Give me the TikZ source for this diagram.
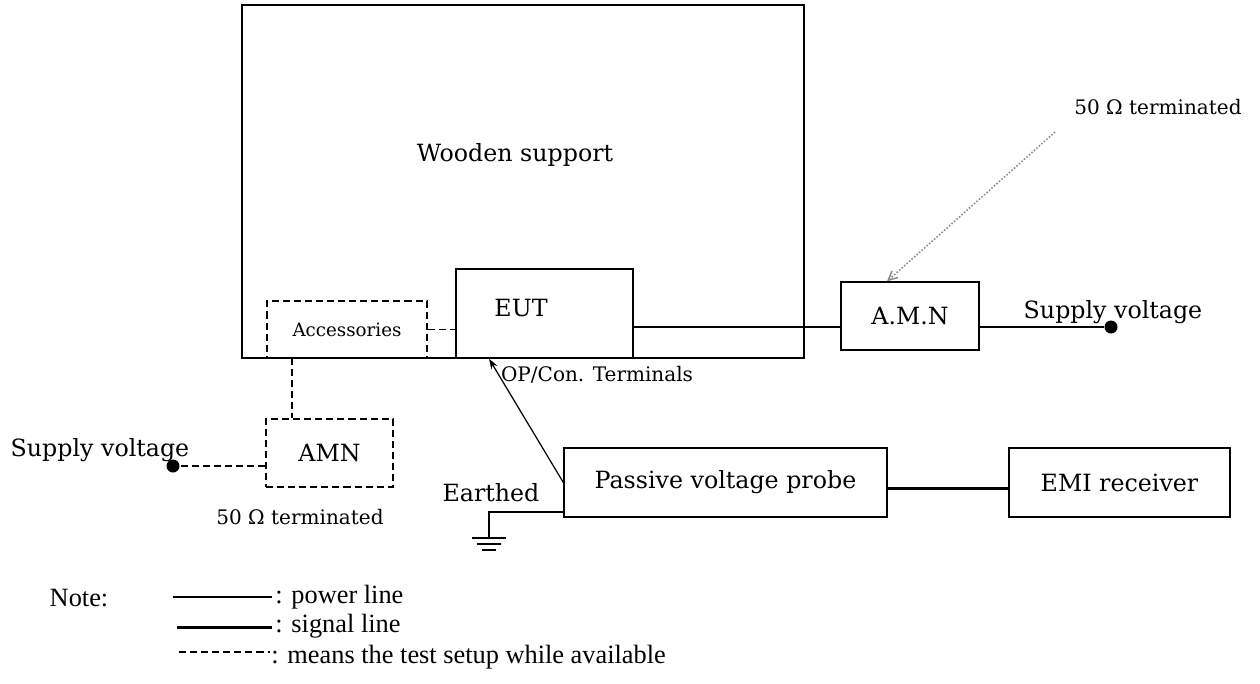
\documentclass[tikz,border=0pt]{standalone}
\usepackage{fontspec}
\setmainfont{DejaVu Serif}
\newfontfamily\notefont{Liberation Serif}
\usepackage{tikz}
\usetikzlibrary{arrows.meta}
\newcommand{\lblfont}{\fontsize{13.5}{16}\selectfont}
\newcommand{\smlfont}{\fontsize{11.4}{13}\selectfont}
\newcommand{\accfont}{\fontsize{10.4}{12}\selectfont}
\newcommand{\legfont}{\notefont\fontsize{15}{18}\selectfont}
\tikzstyle{box}=[draw=black, line width=0.8pt, shape=rectangle,
        inner sep=0pt, font=\lblfont]
\tikzstyle{dashbox}=[box, dash pattern=on 4pt off 2.3pt]
\tikzstyle{lbl}=[inner sep=0pt, font=\lblfont]
\tikzstyle{note text}=[inner sep=0pt, font=\legfont]
\tikzstyle{supply dot}=[fill=black, shape=circle, inner sep=0pt,
        minimum size=0.26cm]
\tikzstyle{power edge}=[-, draw=black, line width=0.8pt]
\tikzstyle{signal edge}=[-, draw=black, line width=1.7pt]
\tikzstyle{option edge}=[-, draw=black, line width=0.8pt,
        dash pattern=on 4pt off 2.3pt]
\tikzstyle{term edge}=[-{Straight Barb[length=5pt,width=5pt]},
        draw={rgb,255: red,140; green,140; blue,140}, line width=0.9pt, densely dotted]
\tikzstyle{probe edge}=[-{Stealth[length=6pt,width=4pt]}, draw=black, line width=0.7pt]

\begin{document}
\begin{tikzpicture}[x=0.02cm, y=-0.02cm]
    \useasboundingbox (0,0) rectangle (1260,683);

    \node [style=box, minimum width=11.24cm, minimum height=7.06cm] (wood) at (523,181.5) {};
    \node [style=lbl] (woodtext) at (515,155) {Wooden support};
    \node [style=box, minimum width=3.54cm, minimum height=1.78cm] (eut) at (544.5,313.5) {};
    \node [style=lbl] (euttext) at (521,308) {EUT};
    \node [style=dashbox, font=\accfont, minimum width=3.2cm, minimum height=1.14cm] (acc) at (347,329.5) {Accessories};
    \node [style=box, minimum width=2.76cm, minimum height=1.36cm] (amnr) at (910,316) {A.M.N};
    \node [style=dashbox, minimum width=2.54cm, minimum height=1.36cm] (amnl) at (329.5,453) {AMN};
    \node [style=box, minimum width=6.46cm, minimum height=1.38cm] (pvp) at (725.5,482.5) {Passive voltage probe};
    \node [style=box, minimum width=4.42cm, minimum height=1.38cm] (emi) at (1119.5,482.5) {EMI receiver};

    \node [style=supply dot] (dotr) at (1111,327) {};
    \node [style=lbl] (supr) at (1113,312) {Supply voltage};
    \node [style=supply dot] (dotl) at (173,466) {};
    \node [style=lbl] (supl) at (100,450) {Supply voltage};
    \node [style=lbl, font=\smlfont] (termr) at (1158,107) {50 Ω terminated};
    \node [style=lbl, font=\smlfont] (terml) at (300,517) {50 Ω terminated};
    \node [style=lbl, font=\smlfont] (opcon) at (597,375) {OP/Con. Terminals};
    \node [style=lbl] (earth) at (491,493) {Earthed};

    \coordinate (pw) at (0,327);
    \coordinate (sig) at (0,488);
    \coordinate (gnd) at (489,512);
    \coordinate (accdrop) at (292,358);
    \coordinate (tailr) at (1055,132);

    \draw [style=option edge] (acc.east) to (acc.east -| eut.west);
    \draw [style=power edge] (eut.east |- pw) to (amnr.west |- pw);
    \draw [style=power edge] (amnr.east |- pw) to (dotr);
    \draw [style=option edge] (accdrop) to (accdrop |- amnl.north);
    \draw [style=option edge] (amnl.west |- dotl) to (dotl);
    \draw [style=term edge] (tailr) to ([xshift=-0.46cm]amnr.north);
    \draw [style=probe edge] (pvp.west) to ([xshift=-1.11cm]eut.south);
    \draw [style=signal edge] (pvp.east |- sig) to (emi.west |- sig);

    % earth
    \draw [style=power edge] (pvp.west |- gnd) to (gnd) to ++(0,26);
    \draw [style=power edge] (gnd) ++(-17,26) -- ++(34,0);
    \draw [style=power edge] (gnd) ++(-12,32) -- ++(24,0);
    \draw [style=power edge] (gnd) ++(-7,38) -- ++(14,0);

    % legend
    \node [style=note text] (note) at (79,598) {Note:};
    \coordinate (lp1) at (173,597);
    \coordinate (lp2) at (272,597);
    \coordinate (ls1) at (177,627);
    \coordinate (ls2) at (272,627);
    \coordinate (ld1) at (179,652);
    \coordinate (ld2) at (270,652);
    \draw [style=power edge] (lp1) to (lp2);
    \draw [style=signal edge] (ls1) to (ls2);
    \draw [style=option edge] (ld1) to (ld2);
    \node [style=note text, anchor=west] (lpt) at (275,597) {: power line};
    \node [style=note text, anchor=west] (lst) at (275,626) {: signal line};
    \node [style=note text, anchor=west] (ldt) at (271,657) {: means the test setup while available};
\end{tikzpicture}
\end{document}
